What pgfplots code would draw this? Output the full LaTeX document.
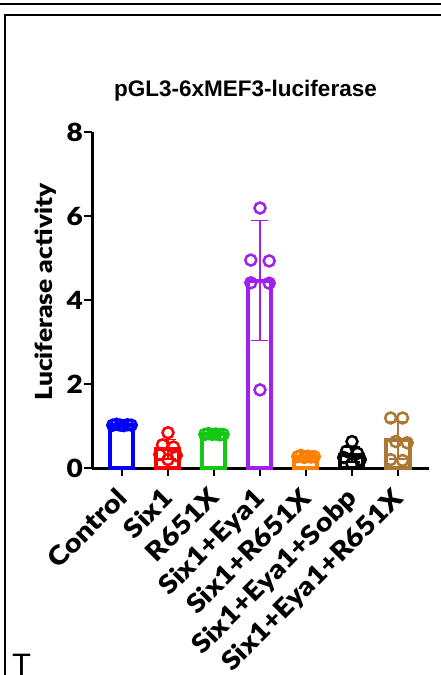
\documentclass[border=0pt]{standalone}
\usepackage{fontspec}
\setmainfont{Liberation Sans}
\newfontfamily\heavy{Lato Black}[FakeStretch=1.12]
\usepackage{pgfplots}
\pgfplotsset{compat=1.18}
\definecolor{cblue}{RGB}{0,0,255}
\definecolor{cred}{RGB}{255,0,0}
\definecolor{cgreen}{RGB}{20,200,20}
\definecolor{cpurple}{RGB}{160,32,240}
\definecolor{corange}{RGB}{255,128,0}
\definecolor{cblack}{RGB}{0,0,0}
\definecolor{cbrown}{RGB}{170,120,50}
\pgfplotsset{
  barst/.style={ybar, bar shift=0pt, bar width=23pt, line width=4pt, fill=white, draw=#1},
  ptst/.style={only marks, mark=o, mark size=5.5pt, color=#1, mark options={line width=2.5pt}},
  ebst/.style={color=#1, only marks, mark=none, error bars/.cd, y dir=both, y explicit,
     error bar style={line width=1.5pt}, error mark options={rotate=90, mark size=8.5pt, line width=1.5pt}},
}
\begin{document}
\begin{tikzpicture}[x=1pt,y=1pt]
\useasboundingbox (0,0) rectangle (441,675);
\clip (0,0) rectangle (441,675);
\draw[line width=2pt] (-2,671) -- (445,671);
\draw[line width=2pt] (5,-2) -- (5,660) -- (445,660);
\node[anchor=base west, inner sep=0pt, font=\fontsize{31}{31}\selectfont] at (12,0) {T};
\node[anchor=base, inner sep=0pt, font=\bfseries\fontsize{22.5}{24}\selectfont] at (245.5,578) {pGL3-6xMEF3-luciferase};
\node[rotate=90, anchor=base, inner sep=0pt, font=\heavy\fontsize{23.5}{26}\selectfont] at (52,383) {Luciferase activity};
\begin{axis}[
  at={(92pt,207pt)}, anchor=south west,
  scale only axis, width=337pt, height=336pt,
  xmin=-0.652, xmax=6.674, ymin=0, ymax=8,
  axis x line=bottom, axis y line=left,
  axis line style={line width=3pt, -},
  clip=false,
  xtick={0,1,2,3,4,5,6},
  xticklabels={Control,Six1,R651X,Six1+Eya1,Six1+R651X,Six1+Eya1+Sobp,Six1+Eya1+R651X},
  ytick={0,2,4,6,8},
  tick align=outside, major tick length=8pt,
  tick style={line width=2.5pt, black},
  /pgf/number format/assume math mode=true,
  yticklabel style={font=\heavy\fontsize{25}{26}\selectfont, inner sep=1pt},
  xticklabel style={font=\heavy\fontsize{26}{28}\selectfont, rotate=45, anchor=north east, inner sep=1pt, xshift=-11pt, yshift=-1pt},
]
% bars (means)
\addplot[barst=cblue] coordinates {(0,1.02)};
\addplot[barst=cred] coordinates {(1,0.45)};
\addplot[barst=cgreen] coordinates {(2,0.80)};
\addplot[barst=cpurple] coordinates {(3,4.46)};
\addplot[barst=corange] coordinates {(4,0.27)};
\addplot[barst=cblack] coordinates {(5,0.32)};
\addplot[barst=cbrown] coordinates {(6,0.66)};
% individual points
\addplot[ptst=cblue] coordinates {(-0.2,1.02) (-0.12,1.04) (-0.04,1.02) (0.04,1.01) (0.12,1.03) (0.2,1.02)};
\addplot[ptst=cred] coordinates {(1,0.84) (0.88,0.55) (1.12,0.50) (0.82,0.32) (1.18,0.30) (1,0.20)};
\addplot[ptst=cgreen] coordinates {(1.8,0.80) (1.88,0.82) (1.96,0.80) (2.04,0.81) (2.12,0.79) (2.2,0.80)};
\addplot[ptst=cpurple] coordinates {(3,6.19) (2.8,4.95) (3.2,4.93) (2.8,4.41) (3.2,4.40) (3,1.86)};
\addplot[ptst=corange] coordinates {(3.82,0.27) (3.89,0.30) (3.96,0.25) (4.04,0.28) (4.11,0.26) (4.18,0.27)};
\addplot[ptst=cblack] coordinates {(5,0.63) (4.88,0.40) (5.12,0.35) (4.82,0.25) (5.18,0.20) (5,0.10)};
\addplot[ptst=cbrown] coordinates {(5.84,1.19) (6.1,1.19) (5.95,0.63) (6.2,0.60) (5.84,0.20) (6.1,0.18)};
% error bars (SD)
\addplot[ebst=cred] coordinates {(1,0.45) +- (0,0.23)};
\addplot[ebst=cpurple] coordinates {(3,4.46) +- (0,1.43)};
\addplot[ebst=cblack] coordinates {(5,0.32) +- (0,0.18)};
\addplot[ebst=cbrown] coordinates {(6,0.66) +- (0,0.45)};
\end{axis}
\end{tikzpicture}
\end{document}
